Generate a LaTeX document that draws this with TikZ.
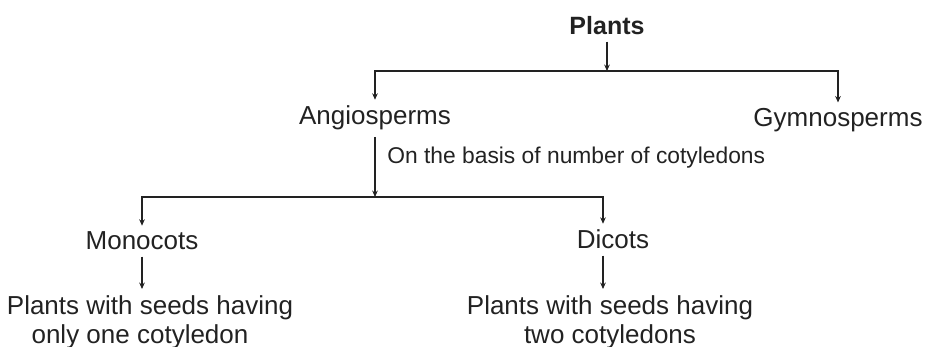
\documentclass[tikz,border=0pt]{standalone}
\usepackage{fontspec}
\setmainfont{Liberation Sans}
\usetikzlibrary{arrows.meta}
\definecolor{inkGrey}{HTML}{222222}
\tikzset{
  branch/.style = {-{Stealth[length=3.2pt,width=2.8pt]}, line width=0.65pt, inkGrey},
  root/.style   = {font=\fontsize{12.5}{14}\selectfont\bfseries, inkGrey, anchor=base, inner sep=3pt},
  taxon/.style  = {font=\fontsize{13}{14}\selectfont, inkGrey, anchor=base, inner sep=3pt},
  trait/.style  = {font=\fontsize{13}{14.5}\selectfont, inkGrey, anchor=north, align=center, inner sep=3pt},
  basis/.style  = {font=\fontsize{11.4}{13}\selectfont, inkGrey, anchor=west, inner sep=0pt},
}
\begin{document}
\begin{tikzpicture}[x=0.5pt,y=0.5pt]
  \useasboundingbox (0,0) rectangle (926,347);
  % first split
  \node[root] (plants) at (607,312) {Plants};
  \node[taxon] (angio) at (375,222) {Angiosperms};
  \node[taxon] (gymno) at (838,220) {Gymnosperms};
  \coordinate (topsplit) at (607,276);
  \draw[branch] (plants) -- (topsplit);
  \draw[branch] (topsplit) -| (angio);
  \draw[branch] (topsplit) -| (gymno);
  % split on cotyledons
  \node[basis] (basisnote) at (387,189) {On the basis of number of cotyledons};
  \node[taxon] (mono) at (142,97) {Monocots};
  \node[taxon] (dicot) at (613,98) {Dicots};
  \coordinate (cotsplit) at (375,150);
  \draw[branch] (angio) -- (cotsplit);
  \draw[branch] (cotsplit) -| (mono);
  \draw[branch] (cotsplit) -| ([xshift=-5pt]dicot.north);
  % seeds
  \node[trait] (monoseed) at (150,58) {Plants with seeds having\\only one cotyledon\hspace*{10pt}};
  \node[trait] (dicotseed) at (610,58) {Plants with seeds having\\two cotyledons};
  \draw[branch] (mono) -- (mono |- monoseed.north);
  \draw[branch] ([xshift=-5pt]dicot.south) -- ([xshift=-5pt]dicot.south |- dicotseed.north);
\end{tikzpicture}
\end{document}
